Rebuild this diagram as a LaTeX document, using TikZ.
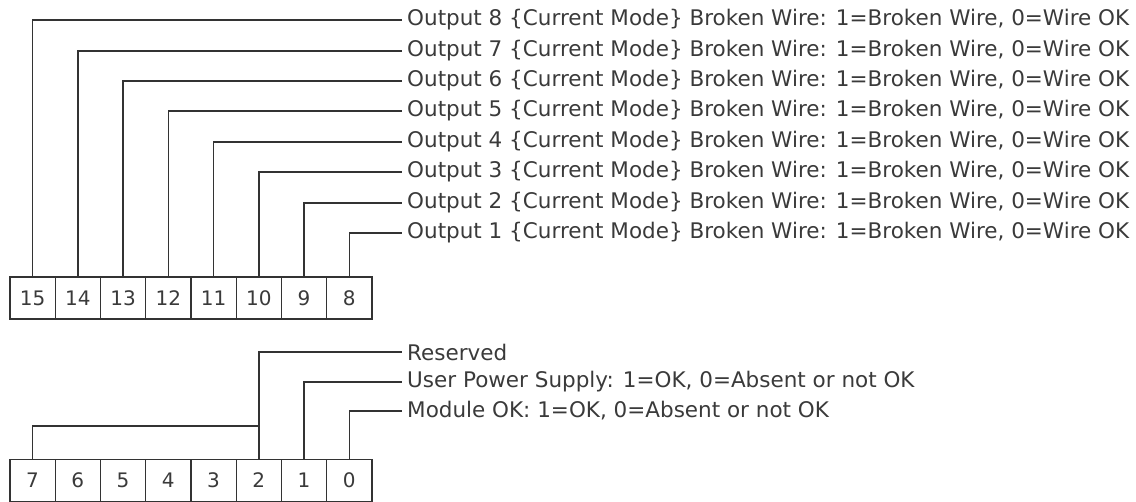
\documentclass[tikz,border=0pt]{standalone}
\usepackage{fontspec}
\setmainfont{DejaVu Sans}
\usetikzlibrary{positioning}
\definecolor{wire}{HTML}{333333}
\definecolor{txt}{HTML}{3A3A3A}

\begin{document}
\begin{tikzpicture}[x=1pt, y=-1pt,
bit/.style={draw=wire, line width=1.3pt, minimum width=45.25pt, minimum height=42pt, inner sep=0pt, font=\fontsize{20}{20}\selectfont, text=txt},
desc/.style={anchor=west, inner sep=5pt, font=\fontsize{21.5}{21.5}\selectfont, text=txt},
lead/.style={draw=wire, line width=1.3pt}]
\useasboundingbox (0,0) rectangle (1136,502);

% upper byte
\foreach \b [count=\k from 0] in {15,14,13,12,11,10,9,8}{
  \node[bit] (b\b) at ({32.6+45.25*\k},298) {\b};
}
\foreach \n/\y in {8/20,7/51,6/81,5/111,4/142,3/172,2/203,1/233}{
  \node[desc] (o\n) at (402,\y) {Output \n\ \{Current Mode\} Broken Wire: 1=Broken Wire, 0=Wire OK};
}
\foreach \i/\j in {15/8,14/7,13/6,12/5,11/4,10/3,9/2,8/1}{\draw[lead] (b\i.north) |- (o\j.west);}

% lower byte
\foreach \b [count=\k from 0] in {7,6,5,4,3,2,1,0}{
  \node[bit] (b\b) at ({32.6+45.25*\k},480.5) {\b};
}
\node[desc] (res) at (402,352) {Reserved};
\node[desc] (ups) at (402,382) {User Power Supply: 1=OK, 0=Absent or not OK};
\node[desc] (mok) at (402,411) {Module OK: 1=OK, 0=Absent or not OK};
\coordinate (join) at (b2.north |- 0,426);
\draw[lead] (b7.north) |- (join);
\draw[lead] (b2.north) |- (res.west);
\draw[lead] (b1.north) |- (ups.west);
\draw[lead] (b0.north) |- (mok.west);
\end{tikzpicture}
\end{document}
